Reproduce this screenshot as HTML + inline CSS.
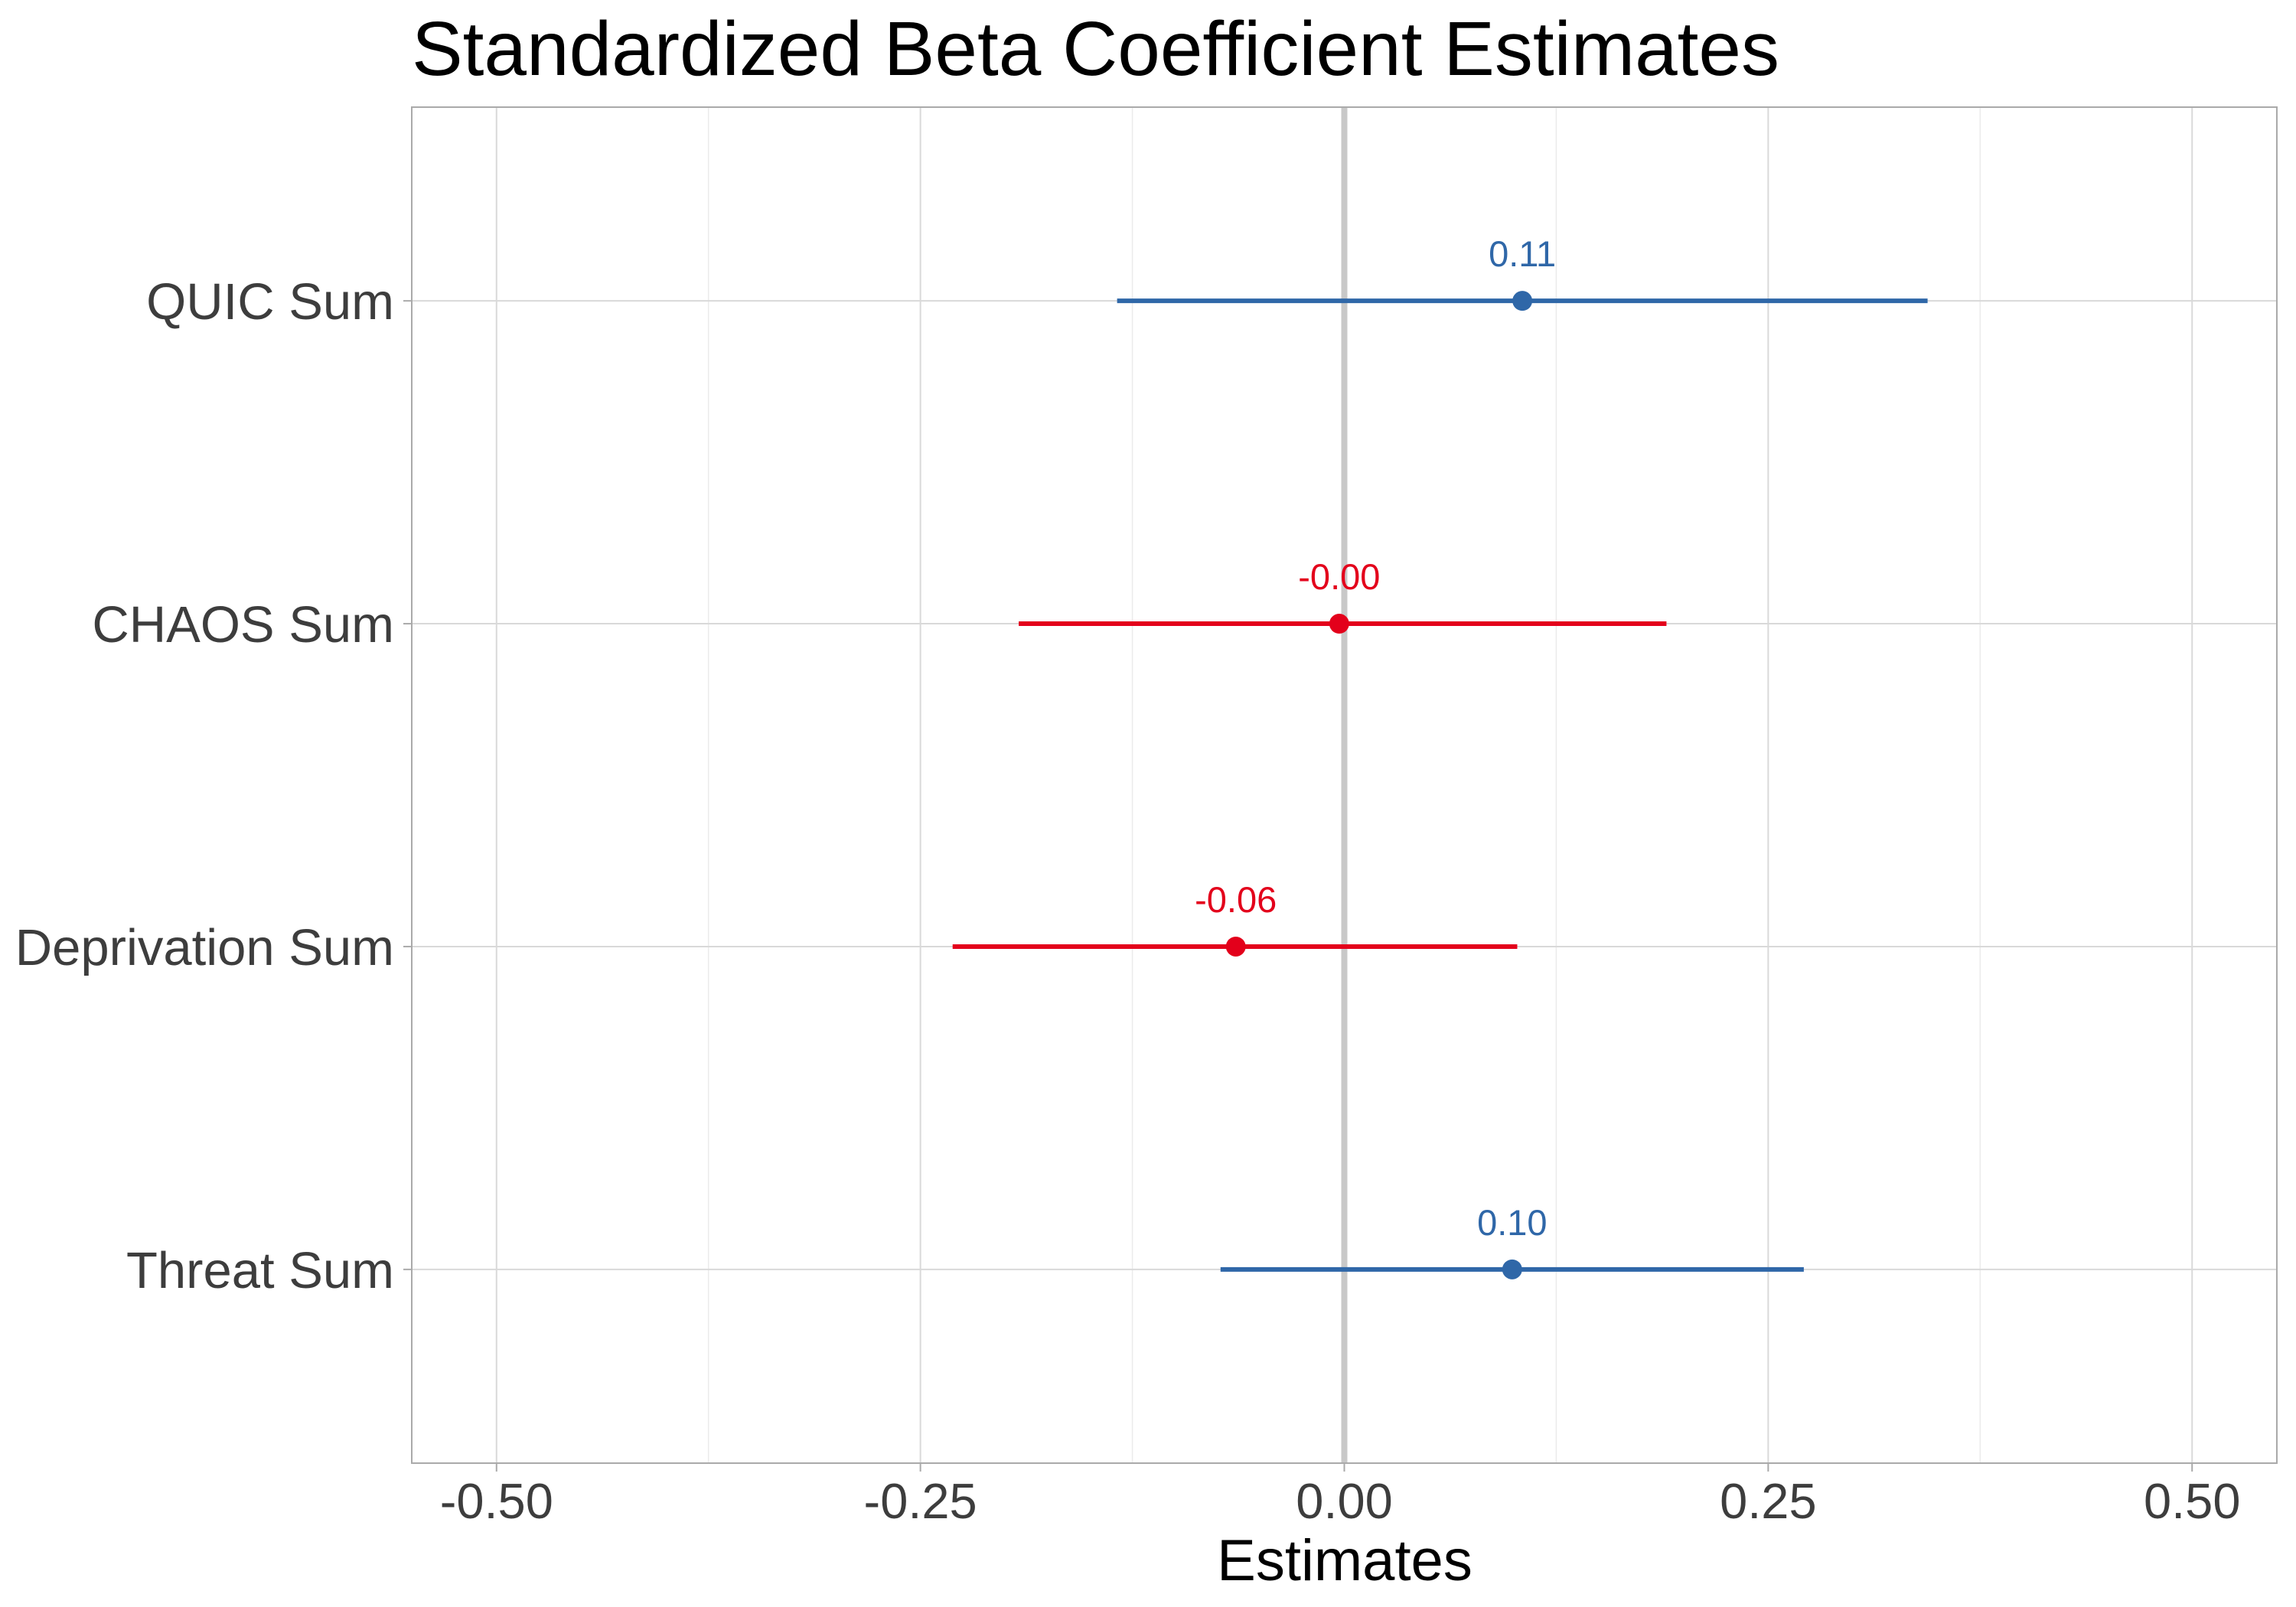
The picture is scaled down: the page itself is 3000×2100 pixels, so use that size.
<!DOCTYPE html>
<html><head><meta charset="utf-8"><style>html,body{margin:0;padding:0;background:#fff}svg{display:block}</style></head>
<body>
<svg id="chart" width="3000" height="2100" xmlns="http://www.w3.org/2000/svg" font-family="Liberation Sans, Arial, sans-serif">
<rect width="3000" height="2100" fill="#fff"/>
<text x="538" y="98" font-size="100" fill="#000" textLength="1787" lengthAdjust="spacingAndGlyphs">Standardized Beta Coefficient Estimates</text>
<g id="grid"></g>
<g id="marks"></g>
<rect x="538" y="140" width="2437" height="1772" fill="none" stroke="#aaaaaa" stroke-width="2"/>
<g id="axes"></g>
<text x="1757" y="2065" font-size="76" text-anchor="middle" fill="#000">Estimates</text>
</svg>
<script>
const categories = ["QUIC Sum", "CHAOS Sum", "Deprivation Sum", "Threat Sum"];
const estimates = [0.105, -0.003, -0.064, 0.099];
const ciLow = [-0.134, -0.192, -0.231, -0.073];
const ciHigh = [0.344, 0.190, 0.102, 0.271];
const valueLabels = ["0.11", "-0.00", "-0.06", "0.10"];
const xTicks = [-0.5, -0.25, 0, 0.25, 0.5];
const xTickLabels = ["-0.50", "-0.25", "0.00", "0.25", "0.50"];
const xMinor = [-0.375, -0.125, 0.125, 0.375];

const L = 538, R = 2975, T = 140, B = 1912;
const xMin = -0.55, xMax = 0.55;
function xs(v){ return L + (v - xMin) / (xMax - xMin) * (R - L); }
function ys(i){ const n = categories.length; const u = (B - T) / (n - 1 + 1.2); return T + 0.6*u + i*u; }
const NS = "http://www.w3.org/2000/svg";
function mk(tag, attrs, parent){ const e = document.createElementNS(NS, tag); for (const k in attrs) e.setAttribute(k, attrs[k]); parent.appendChild(e); return e; }
const grid = document.getElementById('grid'), marks = document.getElementById('marks'), axes = document.getElementById('axes');

xMinor.forEach(v => {
  const l = mk('line', {x1: xs(v), x2: xs(v), y1: T, y2: B, stroke: '#ebebeb', 'stroke-width': 1.5}, grid);
  
  
});
xTicks.forEach((v, i) => {
  const l = mk('line', {x1: xs(v), x2: xs(v), y1: T, y2: B, stroke: '#d9d9d9', 'stroke-width': 2}, grid);
  
  
  const t = mk('line', {x1: xs(v), x2: xs(v), y1: B, y2: B + 11, stroke: '#aaaaaa', 'stroke-width': 2}, axes);
  
  
  const tx = mk('text', {x: xs(v), y: 1984, 'font-size': 65, 'text-anchor': 'middle', fill: '#3d3d3d'}, axes);
  tx.textContent = xTickLabels[i];
  
  
});
categories.forEach((c, i) => {
  const l = mk('line', {x1: L, x2: R, y1: ys(i), y2: ys(i), stroke: '#d9d9d9', 'stroke-width': 2}, grid);
  
  
  const t = mk('line', {x1: L - 11, x2: L, y1: ys(i), y2: ys(i), stroke: '#aaaaaa', 'stroke-width': 2}, axes);
  
  
  const tx = mk('text', {x: 515, y: ys(i) + 24, 'font-size': 67, 'text-anchor': 'end', fill: '#3d3d3d'}, axes);
  tx.textContent = c;
  
  
});
const zl = mk('line', {x1: xs(0), x2: xs(0), y1: T, y2: B, stroke: '#c8c8c8', 'stroke-width': 8}, grid);



categories.forEach((c, i) => {
  const col = estimates[i] >= 0 ? '#2f67a8' : '#e3001b';
  const y = ys(i);
  const e = mk('line', {x1: xs(ciLow[i]), x2: xs(ciHigh[i]), y1: y, y2: y, stroke: col, 'stroke-width': 6}, marks);
  
  
  const p = mk('circle', {cx: xs(estimates[i]), cy: y, r: 13, fill: col}, marks);
  
  
  const t = mk('text', {x: xs(estimates[i]), y: y - 45, 'font-size': 47, 'text-anchor': 'middle', fill: col}, marks);
  t.textContent = valueLabels[i];
  
  
});
</script>
</body></html>
